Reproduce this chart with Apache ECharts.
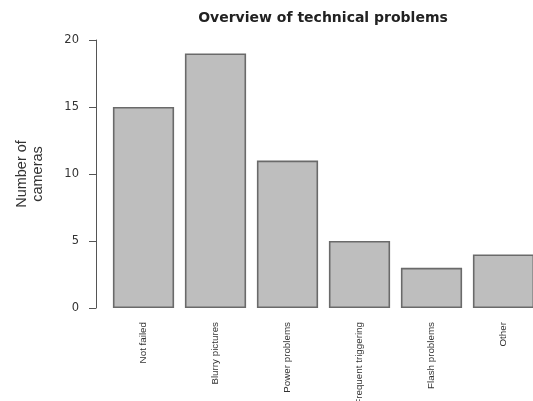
<!DOCTYPE html>
<html><head><meta charset="utf-8">
<script src="https://cdn.jsdelivr.net/npm/echarts@6/dist/echarts.min.js"></script>
<style>html,body{margin:0;padding:0;background:#fff}#c{width:533px;height:401px}</style>
</head><body><div id="c"></div>
<script>
const categories = ["Not failed","Blurry pictures","Power problems","Frequent triggering","Flash problems","Other"];
const values = [15, 19, 11, 5, 3, 4];
const yTicks = {min: 0, max: 20, interval: 5};

const chart = echarts.init(document.getElementById('c'), null, {renderer:'canvas'});
chart.setOption({
  animation: false,
  backgroundColor: '#fff',
  title: {
    text: 'Overview of technical problems',
    left: 318, top: 6, textAlign: 'center',
    textStyle: {fontFamily: 'DejaVu Sans', fontWeight: 'bold', fontSize: 14, color: '#222'}
  },
  grid: {left: 107.5, right: -6.5, top: 40, bottom: 93, containLabel: false, outerBoundsMode: 'none'},
  xAxis: {
    type: 'category', data: categories,
    axisLine: {show: false}, axisTick: {show: false},
    axisLabel: {rotate: 90, margin: 14, fontSize: 9.8, color: '#333', fontFamily: 'Liberation Sans Narrow, Liberation Sans', interval: 0}
  },
  yAxis: {
    type: 'value', min: yTicks.min, max: yTicks.max, interval: yTicks.interval,
    offset: 11.5,
    name: 'Number of\ncameras', nameLocation: 'middle', nameRotate: 90, nameGap: 50,
    nameTextStyle: {fontSize: 14.5, color: '#333', fontFamily: 'Liberation Sans Narrow, Liberation Sans', lineHeight: 16},
    axisLine: {show: true, lineStyle: {color: '#555', width: 1}},
    axisTick: {show: true, length: 7, lineStyle: {color: '#555'}},
    axisLabel: {margin: 17, fontSize: 11.5, color: '#333', fontFamily: 'DejaVu Sans'},
    splitLine: {show: false}
  },
  series: [{
    type: 'bar', data: values, barCategoryGap: '15%',
    itemStyle: {color: '#bebebe', borderColor: '#6a6a6a', borderWidth: 1.6}
  }]
});
</script></body></html>
